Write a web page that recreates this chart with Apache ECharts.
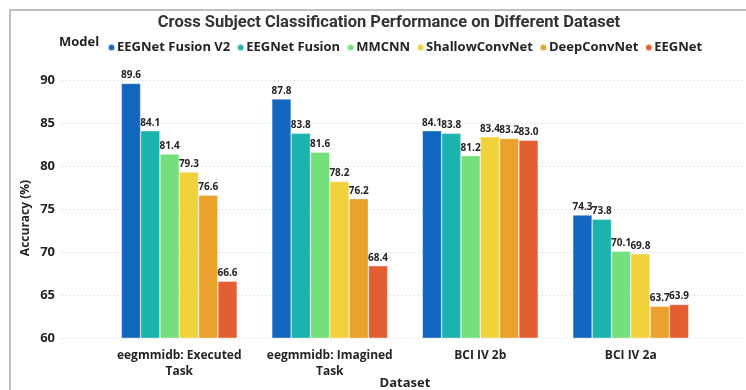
<!DOCTYPE html>
<html>
<head>
<meta charset="utf-8">
<script src="https://cdn.jsdelivr.net/npm/echarts@6/dist/echarts.min.js"></script>
<style>
  html, body { margin: 0; padding: 0; background: #fff; }
  #chart { width: 746px; height: 390px; }
</style>
</head>
<body>
<div id="chart"></div>
<script>
const datasets = ['eegmmidb: Executed\nTask', 'eegmmidb: Imagined\nTask', 'BCI IV 2b', 'BCI IV 2a'];
const models = ['EEGNet Fusion V2', 'EEGNet Fusion', 'MMCNN', 'ShallowConvNet', 'DeepConvNet', 'EEGNet'];
const colors = ['#1167be', '#1bb3ad', '#74e07c', '#f2d23c', '#e9a22b', '#e35e33'];
const fusionV2 = [89.6, 87.8, 84.1, 74.3];
const fusion = [84.1, 83.8, 83.8, 73.8];
const mmcnn = [81.4, 81.6, 81.2, 70.1];
const shallow = [79.3, 78.2, 83.4, 69.8];
const deep = [76.6, 76.2, 83.2, 63.7];
const eegnet = [66.6, 68.4, 83.0, 63.9];
const yTicks = [60, 65, 70, 75, 80, 85, 90];

const values = [fusionV2, fusion, mmcnn, shallow, deep, eegnet];
const font = '"Open Sans", "Noto Sans", sans-serif';

const chart = echarts.init(document.getElementById('chart'));
chart.setOption({
  animation: false,
  textStyle: { fontFamily: font },
  title: {
    text: 'Cross Subject Classification Performance on Different Dataset',
    left: 384,
    textAlign: 'center',
    top: 9,
    textStyle: { fontFamily: 'Roboto', fontSize: 16.5, fontWeight: 'bold', color: '#333' }
  },
  legend: {
    left: 102,
    top: 36,
    icon: 'circle',
    itemWidth: 7,
    itemHeight: 7,
    itemGap: 6,
    textStyle: { fontSize: 13, fontWeight: 'bold', color: '#252423', padding: [0, 0, 0, -3] },
    data: models
  },
  graphic: [
    { type: 'line', shape: { x1: 9, y1: 10, x2: 746, y2: 10 }, style: { stroke: '#c0c0c0', lineWidth: 2 } },
    { type: 'line', shape: { x1: 10, y1: 10, x2: 10, y2: 390 }, style: { stroke: '#c0c0c0', lineWidth: 2 } },
    { type: 'text', left: 59, top: 36, style: { text: 'Model', font: 'bold 13px ' + font, fill: '#252423' } }
  ],
  grid: [
    { left: 62, right: 0, top: 80, bottom: 52, outerBoundsMode: 'none' },
    { left: 104, right: 40, top: 80, bottom: 52, outerBoundsMode: 'none' }
  ],
  xAxis: [
    { type: 'category', gridIndex: 0, data: [''], show: false },
    {
      type: 'category', gridIndex: 1, data: datasets,
      axisLine: { show: false }, axisTick: { show: false },
      axisLabel: { interval: 0, fontSize: 12, fontWeight: 'bold', color: '#252423', margin: 10, lineHeight: 16 },
      name: 'Dataset', nameLocation: 'middle', nameGap: 39, nameMoveOverlap: false,
      nameTextStyle: { fontSize: 13, fontWeight: 'bold', color: '#252423' }
    }
  ],
  yAxis: [
    {
      type: 'value', gridIndex: 0, min: 60, max: 90, interval: 5,
      axisLine: { show: false }, axisTick: { show: false },
      axisLabel: {
        fontSize: 13, fontWeight: 'bold', color: '#252423', margin: 7,
        formatter: v => yTicks.includes(v) ? String(v) : ''
      },
      splitLine: { lineStyle: { type: [1, 3], color: '#cfcfcf', width: 1 } },
      name: 'Accuracy (%)', nameLocation: 'middle', nameGap: 30, nameMoveOverlap: false,
      nameTextStyle: { fontSize: 12, fontWeight: 'bold', color: '#252423', padding: [0, 18, 0, 0] }
    },
    { type: 'value', gridIndex: 1, min: 60, max: 90, interval: 5, show: false, splitLine: { show: false } }
  ],
  series: models.map((m, i) => ({
    name: m,
    type: 'bar',
    xAxisIndex: 1,
    yAxisIndex: 1,
    data: values[i],
    barGap: '0%',
    barCategoryGap: '23%',
    itemStyle: { color: colors[i], borderColor: 'rgba(255,255,255,0.6)', borderWidth: 0.6 },
    label: {
      show: true, position: 'top', distance: 3,
      fontSize: 10, fontWeight: 'bold', color: '#252423',
      formatter: p => p.value.toFixed(1)
    }
  }))
});
</script>
</body>
</html>
